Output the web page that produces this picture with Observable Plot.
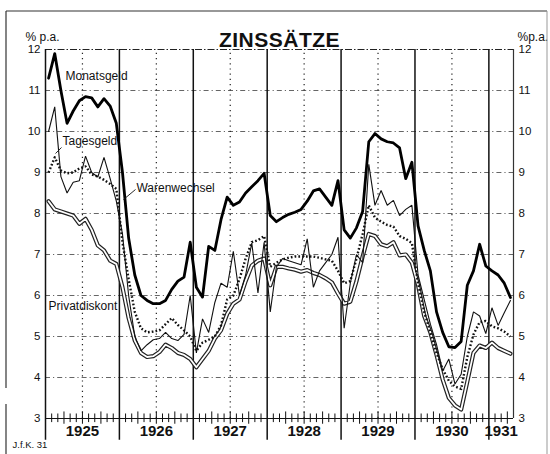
<!DOCTYPE html>
<html><head><meta charset="utf-8">
<script src="https://cdn.jsdelivr.net/npm/d3@7"></script>
<script src="https://cdn.jsdelivr.net/npm/@observablehq/plot@0.6"></script>
<style>
html,body{margin:0;padding:0;background:#fff;}
#chart{width:550px;height:454px;}
</style>
</head><body><div id="chart"></div>
<script>
// Monthly values, Jan 1925 – Apr 1931 (% p.a.)
const startYear = 1925;
const endMonths = 76;
const yearLabels = ["1925","1926","1927","1928","1929","1930","1931"];
const yTicks = [3,4,5,6,7,8,9,10,11,12];

const monatsgeld = [
 11.3,11.9,11.0,10.2,10.5,10.75,10.85,10.82,10.6,10.8,10.62,10.2,
 9.0,7.4,6.5,6.0,5.88,5.8,5.8,5.88,6.15,6.35,6.45,7.3,
 6.2,5.96,7.2,7.1,7.85,8.4,8.2,8.28,8.5,8.65,8.8,8.98,
 7.95,7.8,7.9,7.98,8.03,8.1,8.3,8.55,8.6,8.4,8.2,8.8,
 7.6,7.4,7.65,8.05,9.75,9.95,9.82,9.75,9.72,9.6,8.85,9.25,
 7.7,7.1,6.6,5.6,5.1,4.75,4.73,4.88,6.25,6.6,7.25,6.72,
 6.6,6.5,6.3,5.95
];
const tagesgeld = [
 10.0,10.6,8.9,8.5,8.76,8.8,9.4,9.0,8.89,9.37,8.85,8.3,
 7.5,6.0,5.0,4.65,4.8,4.92,4.95,5.1,4.95,4.9,5.05,6.0,
 4.6,5.43,5.1,5.83,6.3,6.2,7.08,6.0,6.5,7.28,6.06,7.3,
 5.6,6.7,6.9,6.85,6.8,6.75,7.38,6.2,6.6,6.8,7.0,7.42,
 5.2,6.3,7.0,6.8,9.2,8.2,8.56,8.2,8.32,7.95,8.1,8.2,
 6.5,5.9,5.3,4.8,4.16,4.45,3.84,4.08,5.0,5.6,5.5,5.07,
 5.7,5.27,5.58,5.88
];
const warenwechsel = [
 9.0,9.37,9.05,8.98,9.0,9.1,9.15,8.95,8.9,8.82,8.72,8.6,
 7.3,6.4,5.6,5.2,5.1,5.12,5.15,5.3,5.45,5.28,5.15,5.0,
 4.65,4.85,4.92,5.0,5.27,5.9,6.0,6.4,6.9,7.3,7.35,7.45,
 6.7,6.8,6.88,6.92,6.95,6.95,6.95,6.95,6.92,6.88,6.85,6.6,
 6.3,6.35,6.9,7.5,8.2,7.9,7.8,7.72,7.68,7.45,7.38,7.28,
 6.3,5.6,5.1,4.6,4.2,3.92,3.78,3.72,4.5,5.05,5.35,5.38,
 5.25,5.2,5.12,5.0
];
const privatdiskont = [
 8.3,8.1,8.05,8.0,7.95,7.75,7.87,7.6,7.22,7.1,6.85,6.77,
 6.2,5.45,4.9,4.6,4.5,4.52,4.62,4.8,4.72,4.6,4.55,4.45,
 4.25,4.45,4.65,4.95,5.15,5.55,5.8,5.9,6.35,6.73,6.85,6.9,
 6.25,6.7,6.7,6.66,6.63,6.58,6.62,6.55,6.5,6.42,6.32,6.05,
 5.8,5.85,6.35,6.95,7.5,7.45,7.25,7.2,7.3,6.98,7.0,6.8,
 6.25,5.5,5.1,4.55,3.95,3.5,3.32,3.22,3.9,4.6,4.78,4.72,
 4.85,4.72,4.65,4.58
];

// label annotations (data coordinates)
const seriesLabels = [
  {name:"Monatsgeld",   t:1925.271, v:11.34},
  {name:"Tagesgeld",    t:1925.23,  v:9.756},
  {name:"Warenwechsel", t:1926.231, v:8.61},
  {name:"Privatdiskont",t:1925.041, v:5.73}
];
const leaders = [
  {t1:1925.2165, v1:9.61, t2:1925.135, v2:9.463},
  {t1:1926.218,  v1:8.585, t2:1926.055, v2:8.34}
];

const rows = vals => vals.map((v,i)=>({t:startYear+(i+0.5)/12, v}));
const tEnd = startYear + endMonths/12;
const yearStarts = yearLabels.map(y=>+y);
const midYears = yearStarts.slice(0,-1).map(y=>y+0.5);
const yearLabelPos = yearLabels.map((y,i)=>({label:y, t: i<yearLabels.length-1 ? +y+0.5 : Math.min(+y+0.5,(+y+tEnd)/2)}));
const monthTicks = d3.range(1,endMonths).filter(m=>m%12!==0).map(m=>({t:startYear+m/12, q:m%3===0}));

const plot = Plot.plot({
  width:550, height:454,
  marginLeft:45, marginRight:37, marginTop:49, marginBottom:36,
  style:{fontFamily:"'Liberation Sans', Arial, sans-serif", fontSize:"11.5px", color:"#111", background:"#fff"},
  x:{domain:[startYear,tEnd], axis:null},
  y:{domain:[3,12], axis:"both", ticks:yTicks, tickSize:0, tickPadding:5, label:null},
  marks:[
    // horizontal grid
    Plot.ruleY(yTicks.filter(d=>d>3 && d<12), {stroke:"#555", strokeWidth:0.9, strokeDasharray:"5,3,1.2,3"}),
    Plot.ruleY([12], {stroke:"#222", strokeWidth:1.1, strokeDasharray:"7,2,1.5,2"}),
    // mid-year dotted verticals
    Plot.ruleX(midYears, {y1:3, y2:12, stroke:"#222", strokeWidth:1.2, strokeDasharray:"1.2,4"}),
    // year boundaries
    Plot.ruleX(yearStarts, {y1:2.47, y2:12, stroke:"#111", strokeWidth:1.5}),
    Plot.ruleX([tEnd], {y1:3, y2:12, stroke:"#333", strokeWidth:1.2}),
    // baseline and monthly ticks
    Plot.ruleY([3], {stroke:"#111", strokeWidth:1.1}),
    Plot.ruleX(monthTicks, {x:"t", y1:d=>d.q?2.86:2.9, y2:d=>d.q?3.16:3.11, stroke:"#111", strokeWidth:1}),
    // Privatdiskont double line
    Plot.line(rows(privatdiskont), {x:"t", y:"v", stroke:"#222", strokeWidth:4.2, strokeLinejoin:"round"}),
    Plot.line(rows(privatdiskont), {x:"t", y:"v", stroke:"#fff", strokeWidth:1.8, strokeLinejoin:"round"}),
    // Warenwechsel dotted
    Plot.line(rows(warenwechsel), {x:"t", y:"v", stroke:"#111", strokeWidth:2.4, strokeDasharray:"1.7,2.1", strokeLinecap:"butt"}),
    // Tagesgeld thin
    Plot.line(rows(tagesgeld), {x:"t", y:"v", stroke:"#111", strokeWidth:1.1, strokeLinejoin:"miter"}),
    // Monatsgeld thick
    Plot.line(rows(monatsgeld), {x:"t", y:"v", stroke:"#000", strokeWidth:2.8, strokeLinejoin:"round"}),
    // leaders and series labels
    Plot.link(leaders, {x1:"t1", y1:"v1", x2:"t2", y2:"v2", stroke:"#111", strokeWidth:0.9}),
    Plot.text(seriesLabels, {x:"t", y:"v", text:"name", textAnchor:"start", fontSize:12, fill:"#111"}),
    // year labels
    Plot.text(yearLabelPos, {x:"t", text:"label", frameAnchor:"bottom", dy:17, fontSize:15, fontWeight:"bold", fill:"#111"}),
    // title and units
    Plot.text(["ZINSSÄTZE"], {frameAnchor:"top", dy:-17, fontSize:21, fontWeight:"bold", fill:"#111"}),
    Plot.text(["% p.a."], {frameAnchor:"top-left", dx:-20, dy:-17, textAnchor:"start", fontSize:12, fill:"#111"}),
    Plot.text(["%p.a."], {frameAnchor:"top-right", dx:4, dy:-17, textAnchor:"start", fontSize:12, fill:"#111"}),
    Plot.text(["J.f.K. 31"], {frameAnchor:"bottom-left", dx:-33, dy:29, textAnchor:"start", fontSize:9.5, fill:"#111"})
  ]
});
document.getElementById("chart").appendChild(plot);

// page frame decoration
const svg = d3.select(plot);
const g = svg.append("g").attr("stroke","#333").attr("fill","none");
g.append("line").attr("x1",6).attr("x2",547).attr("y1",11).attr("y2",11).attr("stroke-width",1.2);
g.append("line").attr("x1",6).attr("x2",6).attr("y1",11).attr("y2",388).attr("stroke-width",1.2);
g.append("line").attr("x1",6).attr("x2",6).attr("y1",404).attr("y2",454).attr("stroke-width",1.2);
g.append("line").attr("x1",547).attr("x2",547).attr("y1",11).attr("y2",454).attr("stroke","#999").attr("stroke-width",1);
svg.selectAll("text").filter(function(){return this.textContent==="ZINSSÄTZE";}).attr("letter-spacing","0.5px");
</script>
</body></html>
